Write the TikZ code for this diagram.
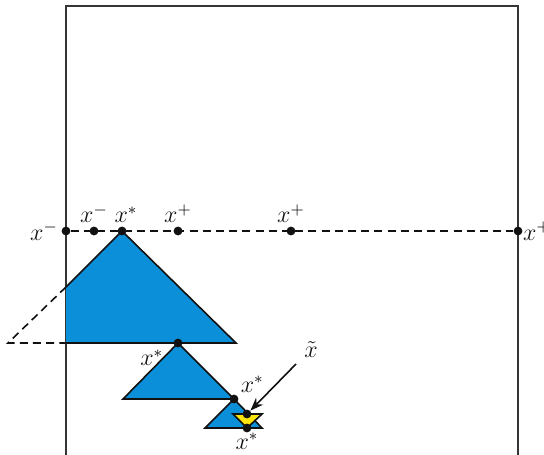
\documentclass[tikz,border=0pt]{standalone}
\usepackage{amsmath,amssymb}
\usepackage{xcolor}
\usepackage{tikz}
\usetikzlibrary{arrows.meta,backgrounds,calc,positioning}
\definecolor{ink}{HTML}{111111}
\definecolor{cellblue}{HTML}{0B8FD8}
\definecolor{hityellow}{HTML}{FFE60A}
\tikzset{
  >={Stealth[length=2.6mm,width=1.8mm]},
  frame/.style={draw=ink!85,line width=1pt},
  cut/.style={draw=ink,line width=0.8pt,dash pattern=on 4pt off 2.6pt},
  cell/.style={fill=cellblue,draw=ink,line width=0.8pt,line join=miter},
  hit/.style={fill=hityellow,draw=ink,line width=0.8pt},
  dot/.style={circle,fill=ink,minimum size=4.4pt,inner sep=0pt},
  lbl/.style={font=\large,text=ink,inner sep=1.5pt},
  point/.style={-Stealth,draw=ink,line width=0.8pt}
}
\begin{document}
\begin{tikzpicture}[x=0.5pt,y=-0.5pt]
  \useasboundingbox (0,0) rectangle (544,454);
  % search box
  \draw[frame] (66,460)--(66,6)--(518,6)--(518,460);
  % cells
  \fill[cellblue] (66,287)--(122,231)--(236,343)--(66,343)--cycle;
  \draw[draw=ink,line width=0.8pt] (66,287)--(122,231)--(236,343)--(66,343);
  \draw[cut] (66,287)--(8,343)--(66,343);
  \draw[cell] (178,343)--(234,399)--(123,399)--cycle;
  \draw[cell] (234,399)--(262,428)--(205,428)--cycle;
  \draw[hit] (233,414)--(262,414)--(247,428)--cycle;
  % line search points
  \node[dot,label={[lbl]left:$x^-$}] (lft) at (66,231) {};
  \node[dot,label={[lbl]above:$x^-$}] (xm) at (94,231) {};
  \node[dot,label={[lbl,xshift=2pt]above:$x^*$}] (top) at (122,231) {};
  \node[dot,label={[lbl]above:$x^+$}] (xpa) at (178,231) {};
  \node[dot,label={[lbl]above:$x^+$}] (xpb) at (291,231) {};
  \node[dot,label={[lbl,label distance=-1.5pt]right:$x^+$}] (rgt) at (518,231) {};
  \begin{scope}[on background layer]
    \draw[cut] (lft)--(rgt);
  \end{scope}
  % refined minima
  \node[dot,label={[lbl,xshift=-4pt]below left:$x^*$}] (mid) at (178,343) {};
  \node[dot,label={[lbl]above right:$x^*$}] (low) at (234,399) {};
  \node[dot] (ytop) at (247,414) {};
  \node[dot,label={[lbl,label distance=-1.5pt]below:$x^*$}] (ybot) at (247,428) {};
  \node[lbl] (xt) at (311,350) {$\tilde{x}$};
  \coordinate (tail) at (296,364);
  \draw[point] (tail)--(ytop.north east);
\end{tikzpicture}
\end{document}
